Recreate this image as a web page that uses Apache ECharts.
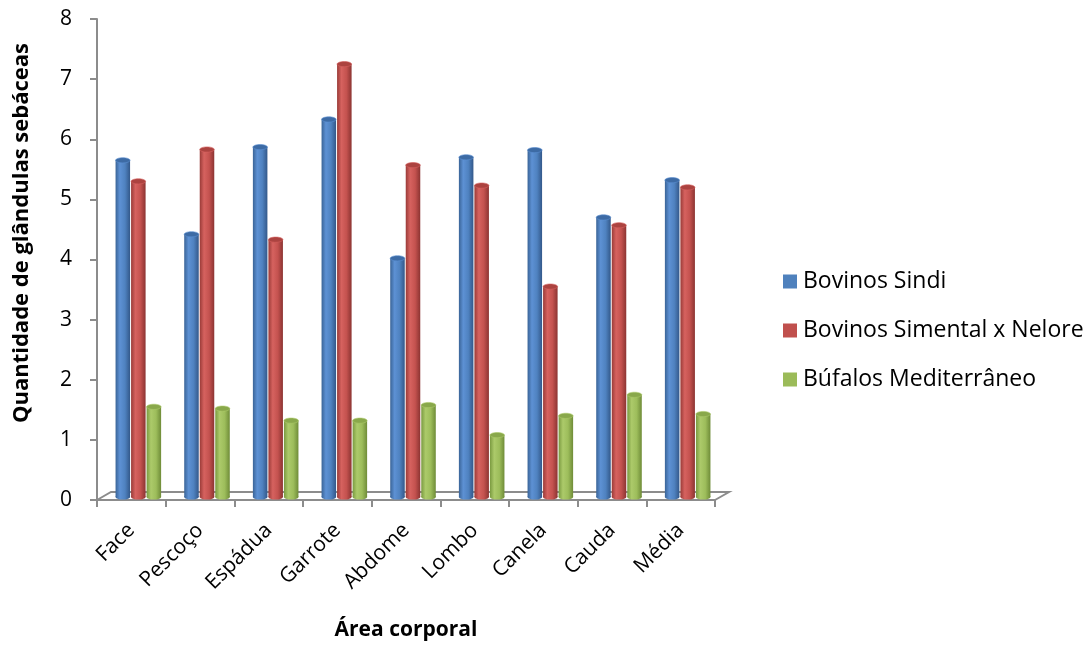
<!DOCTYPE html>
<html>
<head>
<meta charset="utf-8">
<script src="https://cdn.jsdelivr.net/npm/echarts@6/dist/echarts.min.js"></script>
<style>
  html, body { margin: 0; padding: 0; background: #fff; overflow: hidden; }
  #chart { width: 1086px; height: 645px; }
</style>
</head>
<body>
<div id="chart"></div>
<script>
// Número médio de glândulas sebáceas por área corporal
const categories = ['Face', 'Pescoço', 'Espádua', 'Garrote', 'Abdome', 'Lombo', 'Canela', 'Cauda', 'Média'];
const seriesNames = ['Bovinos Sindi', 'Bovinos Simental x Nelore', 'Búfalos Mediterrâneo'];
const sindi = [5.6, 4.37, 5.82, 6.28, 3.97, 5.65, 5.77, 4.65, 5.27];
const simentalNelore = [5.25, 5.78, 4.28, 7.2, 5.52, 5.18, 3.5, 4.52, 5.15];
const bufalos = [1.5, 1.47, 1.27, 1.27, 1.53, 1.03, 1.35, 1.7, 1.38];
const yTicks = [0, 1, 2, 3, 4, 5, 6, 7, 8];

const FONT = '"Open Sans", Lato, sans-serif';
const AXIS_GRAY = '#8c8c8c';

// cylinder shading per series
const palettes = [
  { base: '#4F81BD', edgeL: '#3a6497', hi: '#5d91d4', mid: '#4f82c0', edgeR: '#33588a', cap: '#3d6ba5' },
  { base: '#C0504D', edgeL: '#9a3b38', hi: '#d6625f', mid: '#c4524f', edgeR: '#8c3432', cap: '#ac4340' },
  { base: '#9BBB59', edgeL: '#7a9a40', hi: '#acca6a', mid: '#9dbd5b', edgeR: '#6f8c38', cap: '#89a84b' }
];

// perspective offset of the column row behind the front floor edge
const DEPTH = { x: 7, y: -3 };
const FLOOR = { x: 14, y: -8 };

function shade(p) {
  return {
    type: 'linear', x: 0, y: 0, x2: 1, y2: 0,
    colorStops: [
      { offset: 0, color: p.edgeL },
      { offset: 0.3, color: p.hi },
      { offset: 0.65, color: p.mid },
      { offset: 1, color: p.edgeR }
    ]
  };
}

function cylinderSeries(name, values, k) {
  const p = palettes[k];
  return {
    type: 'custom',
    name: name,
    data: values.map((v, i) => [i, v]),
    encode: { x: 0, y: 1 },
    itemStyle: { color: p.base },
    z: 3,
    renderItem: function (params, api) {
      const i = api.value(0);
      const v = api.value(1);
      const band = api.size([1, 0])[0];
      const w = band * 0.226;
      const top = api.coord([i, v]);
      const bot = api.coord([i, 0]);
      const cx = top[0] + DEPTH.x + (k - 1) * w;
      const yTop = top[1] + DEPTH.y;
      const yBot = bot[1] + DEPTH.y;
      const rx = w / 2 - 0.5;
      const ry = 2.6;
      const fill = shade(p);
      return {
        type: 'group',
        children: [
          { type: 'ellipse', shape: { cx: cx, cy: yBot, rx: rx, ry: ry }, style: { fill: fill } },
          { type: 'rect', shape: { x: cx - rx, y: yTop, width: rx * 2, height: yBot - yTop }, style: { fill: fill } },
          { type: 'ellipse', shape: { cx: cx, cy: yTop, rx: rx, ry: ry }, style: { fill: p.cap, stroke: p.hi, lineWidth: 0.6 } }
        ]
      };
    }
  };
}

// floor of the plot: back edge and the two slanted sides
const floorSeries = {
  type: 'custom',
  silent: true,
  data: [[0, 0]],
  encode: { x: 0, y: 1 },
  z: 1,
  renderItem: function (params, api) {
    const band = api.size([1, 0])[0];
    const first = api.coord([0, 0]);
    const last = api.coord([categories.length - 1, 0]);
    const xl = first[0] - band / 2;
    const xr = last[0] + band / 2;
    const y0 = first[1];
    return {
      type: 'polyline',
      shape: { points: [[xl, y0], [xl + FLOOR.x, y0 + FLOOR.y], [xr + FLOOR.x, y0 + FLOOR.y], [xr, y0]] },
      style: { stroke: AXIS_GRAY, lineWidth: 2, fill: null }
    };
  }
};

const chart = echarts.init(document.getElementById('chart'), null, { renderer: 'canvas', width: 1086, height: 645 });
chart.setOption({
  animation: false,
  color: palettes.map(p => p.base),
  textStyle: { fontFamily: FONT },
  grid: { left: 97, top: 19, width: 618, height: 481, containLabel: false, outerBoundsMode: 'none' },
  legend: {
    orient: 'vertical',
    left: 778,
    top: 265,
    itemWidth: 14,
    itemHeight: 14,
    itemGap: 26,
    icon: 'rect',
    data: seriesNames,
    textStyle: { fontFamily: FONT, fontSize: 23, color: '#000', padding: [0, 0, 0, 1] }
  },
  xAxis: {
    type: 'category',
    data: categories,
    name: 'Área corporal',
    nameLocation: 'middle',
    nameGap: 120,
    nameTextStyle: { fontFamily: FONT, fontSize: 21, fontWeight: 'bold', color: '#000' },
    axisLine: { show: true, lineStyle: { color: AXIS_GRAY, width: 2 } },
    axisTick: { show: true, length: 7, lineStyle: { color: AXIS_GRAY, width: 2 } },
    axisLabel: { rotate: 45, margin: 27, fontFamily: FONT, fontSize: 21, color: '#000' },
    splitLine: { show: false }
  },
  yAxis: {
    type: 'value',
    min: yTicks[0],
    max: yTicks[yTicks.length - 1],
    interval: 1,
    axisLine: { show: true, lineStyle: { color: AXIS_GRAY, width: 2 } },
    axisTick: { show: true, length: 7, lineStyle: { color: AXIS_GRAY, width: 2 } },
    axisLabel: { margin: 25, fontFamily: FONT, fontSize: 21, color: '#000' },
    splitLine: { show: false }
  },
  graphic: [{
    type: 'text',
    x: 22,
    y: 233,
    rotation: Math.PI / 2,
    style: {
      text: 'Quantidade de glândulas sebáceas',
      fontFamily: FONT,
      fontSize: 22,
      fontWeight: 'bold',
      fill: '#000',
      align: 'center',
      verticalAlign: 'middle'
    }
  }],
  series: [
    floorSeries,
    cylinderSeries(seriesNames[0], sindi, 0),
    cylinderSeries(seriesNames[1], simentalNelore, 1),
    cylinderSeries(seriesNames[2], bufalos, 2)
  ]
});
</script>
</body>
</html>
